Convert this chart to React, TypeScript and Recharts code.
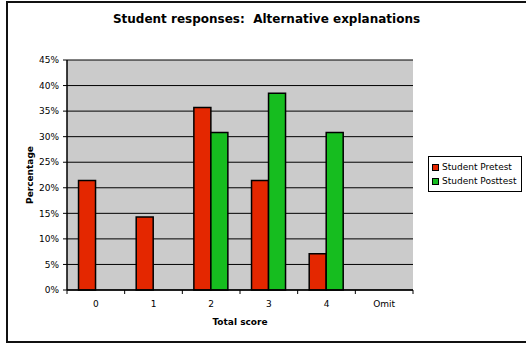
import React from 'react';
import { BarChart, Bar, XAxis, YAxis, CartesianGrid, Legend, ReferenceArea } from 'recharts';

const categories = ['0', '1', '2', '3', '4', 'Omit'];
const pretest = [21.4, 14.3, 35.7, 21.4, 7.1, 0];
const posttest = [0, 0, 30.8, 38.5, 30.8, 0];
const yTicks = [0, 5, 10, 15, 20, 25, 30, 35, 40, 45];
const seriesNames = { pre: 'Student Pretest', post: 'Student Posttest' };
const colors = { pre: '#E42700', post: '#16BD1F' };

const data = categories.map((c, i) => ({ cat: c, pre: pretest[i], post: posttest[i] }));

const FONT = '"DejaVu Sans", Verdana, sans-serif';
const TICK_SIZE = 4;
const TICK_MARGIN = 7;

const CatTick = (props: any) => {
  const { x, y, payload, index, visibleTicksCount, width } = props;
  const half = payload && payload.offset ? payload.offset : width / visibleTicksCount / 2;
  const axisY = y - TICK_SIZE - TICK_MARGIN;
  return (
    <g>
      <line x1={x - half} x2={x - half} y1={axisY} y2={axisY + TICK_SIZE} stroke="#000" strokeWidth={1} />
      {index === visibleTicksCount - 1 && (
        <line x1={x + half} x2={x + half} y1={axisY} y2={axisY + TICK_SIZE} stroke="#000" strokeWidth={1} />
      )}
      <text x={x} y={y} dy="0.71em" textAnchor="middle" fontSize={9} fontFamily={FONT} fill="#000">
        {payload.value}
      </text>
    </g>
  );
};

const LegendBox = () => (
  <div
    style={{
      border: '1px solid #000',
      background: '#fff',
      padding: '3px 4px 3px 3px',
      fontFamily: FONT,
      fontSize: 9,
      lineHeight: '14px',
      width: 85,
      boxSizing: 'content-box',
    }}
  >
    {(['pre', 'post'] as const).map((k) => (
      <div key={k} style={{ display: 'flex', alignItems: 'center', whiteSpace: 'nowrap' }}>
        <span
          style={{
            display: 'inline-block',
            width: 5,
            height: 5,
            background: colors[k],
            border: '1px solid #000',
            marginRight: 3,
          }}
        />
        <span>{seriesNames[k]}</span>
      </div>
    ))}
  </div>
);

export default function App() {
  return (
    <div
      style={{
        position: 'absolute',
        left: 0,
        top: 0,
        width: 526,
        height: 345,
        overflow: 'hidden',
        background: '#fff',
      }}
    >
      <div
        style={{
          position: 'absolute',
          left: 6,
          top: 1,
          width: 600,
          height: 338,
          border: '2px solid #111',
        }}
      />
      <div
        style={{
          position: 'absolute',
          left: 0,
          top: 12,
          width: 533,
          textAlign: 'center',
          fontFamily: FONT,
          fontWeight: 'bold',
          fontSize: 12,
          lineHeight: '14px',
          color: '#000',
        }}
      >
        Student responses:&nbsp; Alternative explanations
      </div>
      <div style={{ position: 'absolute', left: 0, top: 0 }}>
        <BarChart
          width={526}
          height={345}
          data={data}
          margin={{ top: 60, right: 113, bottom: 20, left: -7 }}
          barCategoryGap="20%"
          barGap={0}
        >
          <CartesianGrid vertical={false} stroke="#000" fill="#CBCBCB" strokeWidth={1} />
          <ReferenceArea y1={45} y2={45} stroke="#8a8a8a" ifOverflow="visible" />
          <XAxis
            dataKey="cat"
            height={35}
            tickLine={false}
            axisLine={{ stroke: '#000', strokeWidth: 1.5 }}
            tickSize={TICK_SIZE}
            tickMargin={TICK_MARGIN}
            tick={<CatTick />}
            interval={0}
            label={{
              value: 'Total score',
              position: 'insideBottom',
              offset: 0,
              style: { fontFamily: FONT, fontWeight: 'bold', fontSize: 9, fill: '#000' },
            }}
          />
          <YAxis
            width={74}
            domain={[0, 45]}
            ticks={yTicks}
            interval={0}
            tickFormatter={(v: number) => `${v}%`}
            tickSize={TICK_SIZE}
            tickMargin={4}
            axisLine={{ stroke: '#000', strokeWidth: 1.5 }}
            tickLine={{ stroke: '#000' }}
            tick={{ fontFamily: FONT, fontSize: 9, fill: '#000' }}
            label={{
              value: 'Percentage',
              angle: -90,
              position: 'center',
              style: { fontFamily: FONT, fontWeight: 'bold', fontSize: 9, fill: '#000', textAnchor: 'middle' },
            }}
          />
          <Legend
            layout="vertical"
            align="center"
            verticalAlign="middle"
            content={<LegendBox />}
            wrapperStyle={{ left: 428, top: 156, width: 'auto' }}
          />
          <Bar dataKey="pre" name={seriesNames.pre} fill={colors.pre} stroke="#000" strokeWidth={1.5} isAnimationActive={false} />
          <Bar dataKey="post" name={seriesNames.post} fill={colors.post} stroke="#000" strokeWidth={1.5} isAnimationActive={false} />
        </BarChart>
      </div>
    </div>
  );
}
